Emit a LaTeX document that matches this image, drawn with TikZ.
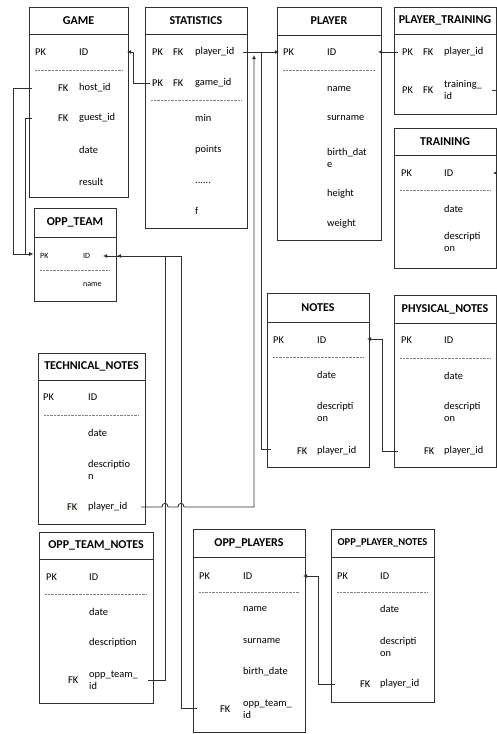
\documentclass[tikz,border=0pt]{standalone}
\usepackage{fontspec}
\setmainfont{Carlito}
\usetikzlibrary{arrows.meta,fit}
\definecolor{ln}{HTML}{303030}
\definecolor{keybg}{HTML}{F3F7EF}
\tikzset{
 tbox/.style={draw=ln, line width=0.8pt, inner sep=0pt},
 hdr/.style={font=\fontsize{12}{14}\selectfont\bfseries, inner sep=0pt},
 fld/.style={anchor=west, inner sep=0pt, font=\fontsize{10.4}{12}\selectfont, align=left},
 keyf/.style={fld, fill=keybg},
 smallf/.style={fld, font=\fontsize{8}{10}\selectfont},
 sepl/.style={draw=gray, line width=0.7pt, dash pattern=on 0.6pt off 0.8pt},
 conn/.style={draw=ln, line width=0.8pt},
 arr/.style={conn, -{Latex[length=4pt,width=4pt]}},
}
% [header opts]{name}{l}{t}{r}{b}{header bottom}{dotted y}{title}
\newcommand{\ertbl}[9][]{%
 \node[tbox, fit={(#3,#4) (#5,#6)}] (#2) {};
 \draw[tbox] (#3,#7) -- (#5,#7);
 \node[hdr,#1] (#2-h) at ({(#3+#5)/2},{(#4+#7)/2}) {#9};
 \ifx\relax#8\relax\else\draw[sepl] ({#3+6},#8) -- ({#5-6},#8);\fi
}
\begin{document}
\begin{tikzpicture}[x=1pt,y=-1pt]
\useasboundingbox (0,0) rectangle (497,734);
\fill[white] (0,0) rectangle (497,734);

% ---------- tables ----------
\ertbl{game}{29}{7}{128}{197}{34}{70}{GAME}
\node[fld] (game-pk) at (35,52) {PK};
\node[fld] (game-id) at (79,52) {ID};
\node[keyf] (game-fk1) at (58,88) {FK};
\node[fld] (game-host) at (79,88) {host\_id};
\node[keyf] (game-fk2) at (58,118) {FK};
\node[fld] (game-guest) at (79,118) {guest\_id};
\node[fld] (game-date) at (79,150) {date};
\node[fld] (game-res) at (79,182) {result};

\ertbl{stat}{145}{7}{247}{228}{34}{100}{STATISTICS}
\node[keyf] (stat-pk1) at (152,52) {PK};
\node[keyf] (stat-fk1) at (173,52) {FK};
\node[fld] (stat-pid) at (195,52) {player\_id};
\node[keyf] (stat-pk2) at (152,83) {PK};
\node[keyf] (stat-fk2) at (173,83) {FK};
\node[fld] (stat-gid) at (195,83) {game\_id};
\node[fld] (stat-min) at (195,118) {min};
\node[fld] (stat-pts) at (195,150) {points};
\node[fld] (stat-dots) at (195,183) {......};
\node[fld] (stat-f) at (195,211) {f};

\ertbl{player}{277}{7}{381}{240}{35}{70}{PLAYER}
\node[fld] (pl-pk) at (283,52) {PK};
\node[fld] (pl-id) at (327,52) {ID};
\node[fld] (pl-name) at (327,89) {name};
\node[fld] (pl-sur) at (327,118) {surname};
\node[fld] (pl-bd) at (327,158) {birth\_dat\\e};
\node[fld] (pl-h) at (327,194) {height};
\node[fld] (pl-w) at (327,224) {weight};

\ertbl{pt}{394}{7}{496}{114}{34}{}{PLAYER\_TRAINING}
\node[fld] (pt-pk1) at (402,52) {PK};
\node[keyf] (pt-fk1) at (423,52) {FK};
\node[fld] (pt-pid) at (444,52) {player\_id};
\node[fld] (pt-pk2) at (402,90) {PK};
\node[keyf] (pt-fk2) at (423,90) {FK};
\node[fld] (pt-tid) at (444,90) {training\_\\id};

\ertbl{tr}{394}{128}{496}{268}{155}{190}{TRAINING}
\node[fld] (tr-pk) at (401,173) {PK};
\node[fld] (tr-id) at (444,173) {ID};
\node[fld] (tr-date) at (444,209) {date};
\node[fld] (tr-desc) at (444,242) {descripti\\on};

\ertbl{ot}{34}{208}{116}{301}{237}{270}{OPP\_TEAM}
\node[smallf] (ot-pk) at (40,256) {PK};
\node[smallf] (ot-id) at (83,256) {ID};
\node[smallf] (ot-name) at (83,285) {name};

\ertbl{notes}{267}{293}{369}{467}{322}{357}{NOTES}
\node[fld] (no-pk) at (273,340) {PK};
\node[fld] (no-id) at (317,340) {ID};
\node[fld] (no-date) at (317,375) {date};
\node[fld] (no-desc) at (317,412) {descripti\\on};
\node[keyf] (no-fk) at (297,451) {FK};
\node[fld] (no-pid) at (317,451) {player\_id};

\ertbl{phys}{394}{295}{496}{467}{323}{358}{PHYSICAL\_NOTES}
\node[fld] (ph-pk) at (401,340) {PK};
\node[fld] (ph-id) at (444,340) {ID};
\node[fld] (ph-date) at (444,376) {date};
\node[fld] (ph-desc) at (444,412) {descripti\\on};
\node[keyf] (ph-fk) at (424,451) {FK};
\node[fld] (ph-pid) at (444,451) {player\_id};

\ertbl{tech}{38}{353}{145}{524}{380}{415}{TECHNICAL\_NOTES}
\node[fld] (te-pk) at (43,397) {PK};
\node[fld] (te-id) at (88,397) {ID};
\node[fld] (te-date) at (88,433) {date};
\node[fld] (te-desc) at (88,470) {descriptio\\n};
\node[keyf] (te-fk) at (67,507) {FK};
\node[fld] (te-pid) at (88,507) {player\_id};

\ertbl{otn}{39}{532}{153}{703}{559}{594}{OPP\_TEAM\_NOTES}
\node[fld] (on-pk) at (46,577) {PK};
\node[fld] (on-id) at (89,577) {ID};
\node[fld] (on-date) at (89,612) {date};
\node[fld] (on-desc) at (89,643) {description};
\node[keyf] (on-fk) at (68,680) {FK};
\node[fld] (on-tid) at (89,680) {opp\_team\_\\id};

\ertbl{op}{193}{529}{305}{732}{557}{592}{OPP\_PLAYERS}
\node[fld] (op-pk) at (199,576) {PK};
\node[fld] (op-id) at (243,576) {ID};
\node[fld] (op-name) at (243,609) {name};
\node[fld] (op-sur) at (243,641) {surname};
\node[fld] (op-bd) at (243,672) {birth\_date};
\node[keyf] (op-fk) at (220,709) {FK};
\node[fld] (op-tid) at (243,709) {opp\_team\_\\id};

\ertbl[font=\fontsize{10.5}{12}\selectfont\bfseries]{opn}{331}{529}{434}{702}{557}{592}{OPP\_PLAYER\_NOTES}
\node[fld] (pn-pk) at (337,576) {PK};
\node[fld] (pn-id) at (380,576) {ID};
\node[fld] (pn-date) at (380,609) {date};
\node[fld] (pn-desc) at (380,647) {descripti\\on};
\node[keyf] (pn-fk) at (360,684) {FK};
\node[fld] (pn-pid) at (380,684) {player\_id};

% ---------- connector points ----------
\coordinate (c-gid) at (150,83);
\coordinate (c-gameid) at (127,52);
\coordinate (c-spid) at (243,52);
\coordinate (c-plid) at (279,52);
\coordinate (c-ptpid) at (398,52);
\coordinate (c-plidr) at (378,52);
\coordinate (c-nopid) at (271,449);
\coordinate (c-tepid) at (141,507);
\coordinate (c-onid) at (148,680);
\coordinate (c-opid) at (197,708);
\coordinate (c-otidr) at (117,256);
\coordinate (c-otid) at (103,256);
\coordinate (c-host) at (32,88);
\coordinate (c-guest) at (32,118);
\coordinate (c-otidl) at (33,254);
\coordinate (c-phpid) at (398,451);
\coordinate (c-noid) at (367,339);
\coordinate (c-pnpid) at (335,684);
\coordinate (c-opidr) at (303,576);
\coordinate (c-tid) at (492,90);
\coordinate (c-trid) at (493,173);

% ---------- connectors ----------
\draw[arr] (c-gid) -- (133,83) -- (133,52) -- (c-gameid);
\draw[arr] (c-spid) -- (c-plid);
\draw[arr] (c-ptpid) -- (c-plidr);
\draw[conn] (c-nopid) -- (261,449) -- (261,52);
\draw[arr] (c-tepid) -- (162,507) .. controls (162,502) and (168,502) .. (168,507)
  -- (178,507) .. controls (178,502) and (184,502) .. (184,507) -- (254,507) -- (254,55);
\draw[arr] (c-onid) -- (165,680) -- (165,256) -- (c-otidr);
\draw[arr] (c-opid) -- (181,708) -- (181,256) -- (c-otid);
\draw[arr] (c-host) -- (13,88) -- (13,254) -- (c-otidl);
\draw[arr] (c-guest) -- (25,118) -- (25,254) -- (c-otidl);
\draw[arr] (c-phpid) -- (382,451) -- (382,339) -- (c-noid);
\draw[arr] (c-pnpid) -- (318,684) -- (318,576) -- (c-opidr);
\draw[arr] (c-tid) -- (505,90) -- (505,173) -- (c-trid);
\end{tikzpicture}
\end{document}
